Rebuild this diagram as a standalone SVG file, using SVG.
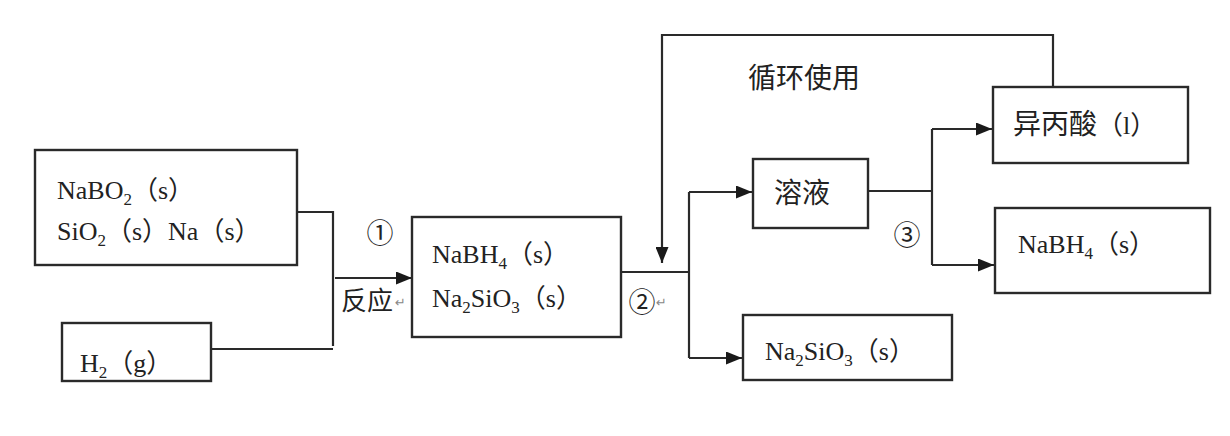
<svg xmlns="http://www.w3.org/2000/svg" width="1230" height="436" viewBox="0 0 1230 436">
<style>
.box{fill:#fff;stroke:#2a2a2a;stroke-width:2.4}
.ln{fill:none;stroke:#2a2a2a;stroke-width:2.2}
.t{font-family:"Liberation Serif","Noto Sans CJK SC",serif;font-size:26px;fill:#222}
.c{font-family:"Noto Sans CJK SC","Noto Sans",sans-serif;font-size:28px;fill:#222}
.n{font-family:"Noto Sans CJK SC","DejaVu Sans",sans-serif;font-size:27px;fill:#222}
.m{font-family:"DejaVu Sans",sans-serif;font-size:13px;fill:#888}
</style>
<defs>
<marker id="ah" viewBox="0 0 16 13" refX="16" refY="6.5" markerWidth="16" markerHeight="13" markerUnits="userSpaceOnUse" orient="auto">
<path d="M0,0 L16,6.5 L0,13 Z" fill="#1a1a1a"/>
</marker>
</defs>
<rect width="1230" height="436" fill="#fff"/>
<g id="connectors">
<path class="ln" d="M297,212 H333 V346"/>
<path class="ln" d="M211,349 H333"/>
<path class="ln" d="M335,278 H412" marker-end="url(#ah)"/>
<path class="ln" d="M621,272 H689"/>
<path class="ln" d="M689,192 V358"/>
<path class="ln" d="M689,192 H752" marker-end="url(#ah)"/>
<path class="ln" d="M689,358 H742" marker-end="url(#ah)"/>
<path class="ln" d="M868,191 H932"/>
<path class="ln" d="M932,129 V265"/>
<path class="ln" d="M932,129 H992" marker-end="url(#ah)"/>
<path class="ln" d="M932,265 H994" marker-end="url(#ah)"/>
<path class="ln" d="M1053,87 V35 H662 V263" marker-end="url(#ah)"/>
<text class="n" x="380" y="243" text-anchor="middle">①</text>
<text class="c" x="341" y="310" style="font-size:26px">反应</text>
<text class="m" x="395" y="307">↵</text>
<text class="n" x="642" y="312" text-anchor="middle">②</text>
<text class="m" x="656" y="307">↵</text>
<text class="n" x="907" y="245" text-anchor="middle">③</text>
<text class="c" x="748" y="88">循环使用</text>
</g>
<g id="n1">
<rect class="box" x="35" y="150" width="262" height="115"/>
<text class="t" x="57" y="199">NaBO<tspan font-size="17" dy="6">2</tspan><tspan dy="-6">（s）</tspan></text>
<text class="t" x="57" y="240">SiO<tspan font-size="17" dy="6">2</tspan><tspan dy="-6">（s）Na（s）</tspan></text>
</g>
<g id="n2">
<rect class="box" x="62" y="323" width="149" height="58"/>
<text class="t" x="80" y="372">H<tspan font-size="17" dy="6">2</tspan><tspan dy="-6">（g）</tspan></text>
</g>
<g id="n3">
<rect class="box" x="412" y="217" width="209" height="120"/>
<text class="t" x="432" y="263">NaBH<tspan font-size="17" dy="6">4</tspan><tspan dy="-6">（s）</tspan></text>
<text class="t" x="432" y="307">Na<tspan font-size="17" dy="6">2</tspan><tspan dy="-6">SiO</tspan><tspan font-size="17" dy="6">3</tspan><tspan dy="-6">（s）</tspan></text>
</g>
<g id="n4">
<rect class="box" x="753" y="159" width="115" height="69"/>
<text class="c" x="774" y="203">溶液</text>
</g>
<g id="n5">
<rect class="box" x="743" y="315" width="209" height="65"/>
<text class="t" x="765" y="360">Na<tspan font-size="17" dy="6">2</tspan><tspan dy="-6">SiO</tspan><tspan font-size="17" dy="6">3</tspan><tspan dy="-6">（s）</tspan></text>
</g>
<g id="n6">
<rect class="box" x="993" y="87" width="195" height="76"/>
<text class="c" x="1013" y="134">异丙酸<tspan class="t" style="font-size:26px">（l）</tspan></text>
</g>
<g id="n7">
<rect class="box" x="995" y="208" width="215" height="85"/>
<text class="t" x="1018" y="253">NaBH<tspan font-size="17" dy="6">4</tspan><tspan dy="-6">（s）</tspan></text>
</g>
</svg>
